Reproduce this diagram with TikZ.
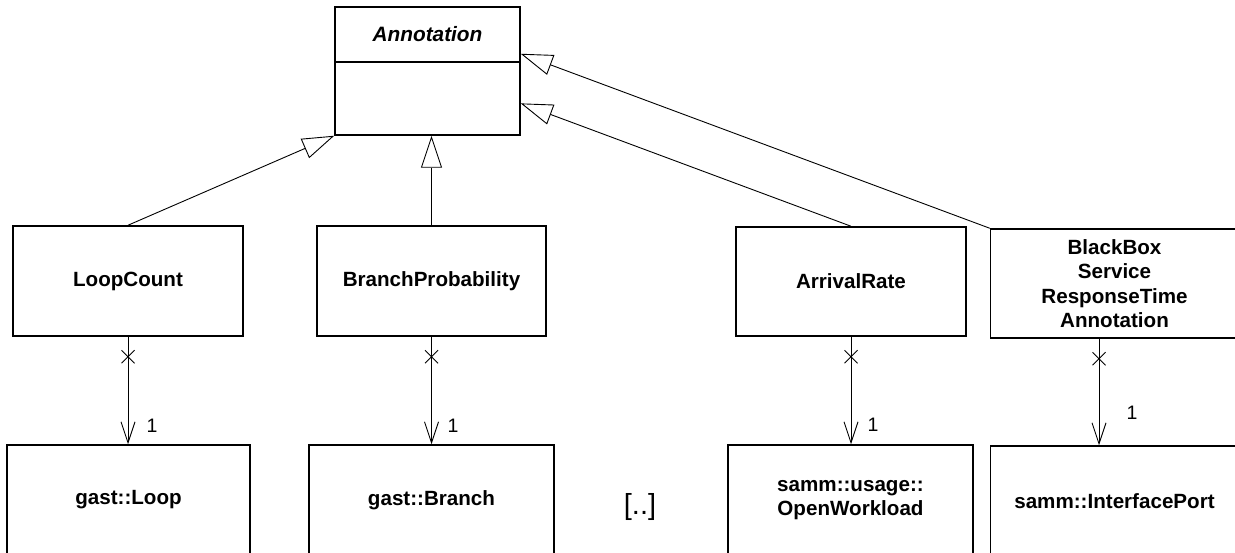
\documentclass[tikz,border=0pt]{standalone}
\usepackage{fontspec}
\setmainfont{Liberation Sans}
\usetikzlibrary{arrows.meta,decorations.markings,calc}
\begin{document}
\begin{tikzpicture}[x=1pt,y=-1pt,
  cls/.style={draw=black, line width=1.5pt, fill=white, inner sep=0pt,
    align=center, font=\fontsize{20.6}{24.5}\selectfont\bfseries},
  gen/.style={line width=0.9pt,
    -{Triangle[open, length=32pt, width=21pt, line width=0.9pt]}},
  assoc/.style={line width=0.9pt,
    -{Straight Barb[length=21pt, width=14pt, line width=0.9pt]},
    postaction={decorate},
    decoration={markings, mark=at position 20pt with {
      \draw[-, line width=0.9pt] (-6.5pt,-6.5pt) -- (6.5pt,6.5pt)
                                 (-6.5pt,6.5pt) -- (6.5pt,-6.5pt);}}},
  mult/.style={inner sep=0pt, font=\fontsize{19.5}{22}\selectfont}
]
\clip (0,0) rectangle (1235,553);
\fill[white] (0,0) rectangle (1235,553);

% abstract base class
\node[cls, minimum width=185pt, minimum height=128pt] (ann) at (427.5,71) {};
\draw[line width=1.2pt] (ann.west |- 0,62) -- (ann.east |- 0,62);
\node[inner sep=0pt, font=\fontsize{20.8}{24}\selectfont\bfseries\itshape]
  (anntitle) at (427.5,34.5) {Annotation};
\coordinate (annR1) at ($(ann.north east)!0.367!(ann.south east)$);
\coordinate (annR2) at ($(ann.north east)!0.75!(ann.south east)$);

% annotation subclasses
\node[cls, minimum width=230pt, minimum height=110pt] (lc) at (128,281) {LoopCount};
\node[cls, minimum width=229pt, minimum height=110pt] (bp) at (431.5,281) {BranchProbability};
\node[cls, minimum width=230pt, minimum height=109pt] (ar) at (851,281.5) {ArrivalRate};
\node[cls, minimum width=248pt, minimum height=109pt] (bb) at (1114.5,283.5)
  {BlackBox\\Service\\ResponseTime\\Annotation};

% annotated model elements
\node[cls, minimum width=243pt, minimum height=110pt] (gl) at (128.5,500) {gast::Loop};
\node[cls, minimum width=245pt, minimum height=110pt] (gb) at (431.5,500) {gast::Branch};
\node[cls, minimum width=245pt, minimum height=110pt] (ow) at (850.5,500)
  {samm::usage::\\OpenWorkload};
\node[cls, minimum width=248pt, minimum height=110pt] (ip) at (1114.5,501)
  {samm::InterfacePort};
\node[inner sep=0pt, font=\fontsize{29}{30}\selectfont] (dots) at (640,507) {[..]};

% generalizations
\draw[gen] (lc.north) -- (ann.south west);
\draw[gen] (bp.north) -- (bp.north |- ann.south);
\draw[gen] (ar.north) -- (annR2);
\draw[gen] (bb.north west) -- (annR1);

% navigable associations
\draw[assoc] (lc.south) -- (lc.south |- gl.north);
\draw[assoc] (bp.south) -- (bp.south |- gb.north);
\draw[assoc] (ar.south) -- (ar.south |- ow.north);
\draw[assoc] ([xshift=-15.5pt]bb.south) -- ([xshift=-15.5pt]ip.north);

% multiplicities
\node[mult] (m1) at (152,426) {1};
\node[mult] (m2) at (453,426) {1};
\node[mult] (m3) at (873,425) {1};
\node[mult] (m4) at (1132,413) {1};
\end{tikzpicture}
\end{document}
